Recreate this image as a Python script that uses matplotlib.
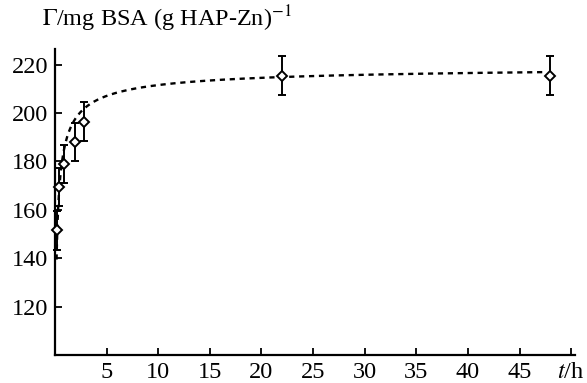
import numpy as np
import matplotlib
matplotlib.use("Agg")
import matplotlib.pyplot as plt

plt.rcParams['font.family'] = ['Liberation Serif', 'DejaVu Serif']
plt.rcParams['mathtext.fontset'] = 'stix'

# data
t_hours = [0.22, 0.4, 0.87, 1.94, 2.8, 22.0, 48.0]
gamma = [151.5, 169.5, 179.0, 188.0, 196.5, 215.5, 215.5]
gamma_err = [8, 8, 8, 8, 8, 8, 8]

# fitted kinetic (Sips-type) curve parameters
gamma_max = 220.3
k_fit = 5.7
n_fit = 0.63

x_ticks = [5, 10, 15, 20, 25, 30, 35, 40, 45, 50]
x_ticklabels = ['5', '10', '15', '20', '25', '30', '35', '40', '45', r'$t$/h']
y_ticks = [120, 140, 160, 180, 200, 220]

fig = plt.figure(figsize=(5.87, 3.83), dpi=100)
ax = fig.add_axes([0.0937, 0.0731, 0.8863, 0.7989])

tt = np.linspace(0.15, 47.3, 600)
fit = gamma_max * k_fit * tt**n_fit / (1 + k_fit * tt**n_fit)
ax.plot(tt, fit, color='black', lw=1.7, linestyle=(0, (2.2, 2.0)), zorder=2)

ax.errorbar(t_hours, gamma, yerr=gamma_err, fmt='D', color='black',
            markerfacecolor='white', markeredgecolor='black', markersize=5,
            markeredgewidth=1.4, ecolor='black', elinewidth=1.4,
            capsize=3, capthick=1.4, zorder=3, clip_on=False)

ax.set_xlim(0, 50.4)
ax.set_ylim(100, 226.5)
ax.set_xticks(x_ticks)
ax.set_xticklabels(x_ticklabels)
ax.set_yticks(y_ticks)

for s in ['top', 'right']:
    ax.spines[s].set_visible(False)
for s in ['left', 'bottom']:
    ax.spines[s].set_linewidth(1.6)

ax.tick_params(direction='in', length=5, width=1.3, labelsize=17.5, pad=5)

fig.text(42 / 587, 1 - 26 / 383, r'$\Gamma$/mg BSA (g HAP-Zn)$^{-1}$',
         fontsize=17.5, ha='left', va='baseline')

fig.savefig('out.png', dpi=100)
